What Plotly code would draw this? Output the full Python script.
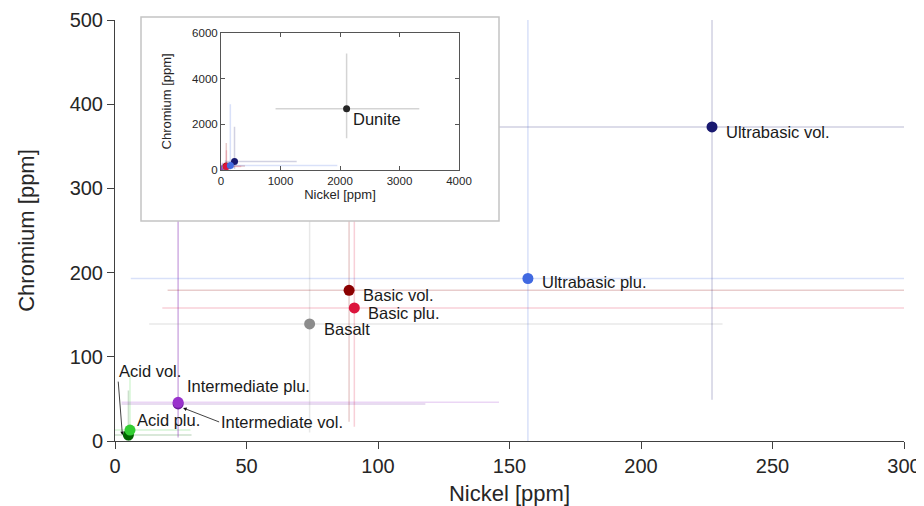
import plotly.graph_objects as go

# ---------------- data ----------------
groups = ["Acid vol.", "Acid plu.", "Intermediate vol.", "Intermediate plu.", "Basalt",
          "Basic vol.", "Basic plu.", "Ultrabasic vol.", "Ultrabasic plu.", "Dunite"]
nickel = [5.1, 5.7, 24, 24, 74, 89, 91, 227, 157, 2111]
chromium = [7, 13, 44, 46, 139, 179, 158, 373, 193, 2680]
nickel_err_minus = [5.1, 5.7, 21.5, 21.5, 61, 69, 73, 150, 151, 1194]
nickel_err_plus = [24, 23, 94, 122, 157, 314, 250, 1045, 1798, 1222]
chromium_err_minus = [7, 13, 40, 41, 129, 156, 141, 324, 200, 1297]
chromium_err_plus = [53, 67, 250, 280, 300, 1000, 700, 1517, 2680, 2415]
colors = ["#006400", "#32CD32", "#6A1B9A", "#9932CC", "#8C8C8C",
          "#8B0000", "#DC143C", "#191970", "#4169E1", "#262626"]

main_xticks = [0, 50, 100, 150, 200, 250, 300]
main_yticks = [0, 100, 200, 300, 400, 500]
inset_xticks = [0, 1000, 2000, 3000, 4000]
inset_yticks = [0, 2000, 4000, 6000]

FONT = "Liberation Sans, Arial, Helvetica, sans-serif"
TXT = "#1a1a1a"
AX = "#404040"


def rgba(hex_color, a):
    h = hex_color.lstrip("#")
    r, g, b = int(h[0:2], 16), int(h[2:4], 16), int(h[4:6], 16)
    return f"rgba({r},{g},{b},{a})"


fig = go.Figure()

# invisible subplot that provides the opaque inset background
fig.add_trace(go.Scatter(x=[], y=[], xaxis="x2", yaxis="y2", showlegend=False, hoverinfo="skip"))


def add_set(xa, ya, msize):
    # error bars first (so markers sit on top of every error line)
    for i, g in enumerate(groups):
        fig.add_trace(go.Scatter(
            x=[nickel[i]], y=[chromium[i]], mode="markers",
            marker=dict(size=1, opacity=0),
            error_x=dict(type="data", symmetric=False, array=[nickel_err_plus[i]],
                         arrayminus=[nickel_err_minus[i]], color=rgba(colors[i], 0.2),
                         thickness=1.5, width=0),
            error_y=dict(type="data", symmetric=False, array=[chromium_err_plus[i]],
                         arrayminus=[chromium_err_minus[i]], color=rgba(colors[i], 0.2),
                         thickness=1.5, width=0),
            xaxis=xa, yaxis=ya, showlegend=False, hoverinfo="skip"))
    for i, g in enumerate(groups):
        fig.add_trace(go.Scatter(
            x=[nickel[i]], y=[chromium[i]], mode="markers", name=g,
            marker=dict(size=msize, color=colors[i], line=dict(width=0)),
            xaxis=xa, yaxis=ya, showlegend=False))


add_set("x", "y", 11)
add_set("x3", "y3", 7)

# ---------------- labels ----------------
lab_font = dict(family=FONT, size=16.5, color=TXT)
right_labels = {"Ultrabasic vol.": (12, -5), "Ultrabasic plu.": (12, -4), "Basic vol.": (12, -5),
                "Basic plu.": (12, -5), "Basalt": (12, -5), "Intermediate plu.": (7, 16),
                "Acid plu.": (5, 10)}
annotations = []
for g, (dx, dy) in right_labels.items():
    i = groups.index(g)
    annotations.append(dict(x=nickel[i], y=chromium[i], xref="x", yref="y", text=g,
                            showarrow=False, xanchor="left", yanchor="middle",
                            xshift=dx, yshift=dy, font=lab_font))

i = groups.index("Acid vol.")
annotations.append(dict(x=nickel[i], y=chromium[i], xref="x", yref="y", text="Acid vol.",
                        showarrow=True, ax=-5, ay=-64, xanchor="left", yanchor="middle",
                        xshift=-6, arrowhead=2, arrowsize=0.9, arrowwidth=0.8,
                        arrowcolor="#111", font=lab_font))
i = groups.index("Intermediate vol.")
annotations.append(dict(x=nickel[i], y=chromium[i], xref="x", yref="y", text="Intermediate vol.",
                        showarrow=True, ax=36, ay=14, xanchor="left", yanchor="middle",
                        xshift=5, yshift=-4, arrowhead=2, arrowsize=0.9, arrowwidth=0.8,
                        arrowcolor="#111", font=lab_font))
i = groups.index("Dunite")
annotations.append(dict(x=nickel[i], y=chromium[i], xref="x3", yref="y3", text="Dunite",
                        showarrow=False, xanchor="left", yanchor="middle",
                        xshift=4, yshift=-10.5, font=lab_font))

# ---------------- layout ----------------
# the page body adds an 8px offset, so the figure is 8px smaller and positions are
# given in window pixels minus that offset
OFF = 8
W, H = 924 - OFF, 506 - OFF
ml, mr, mt, mb = 115 - OFF, 20, 10 - OFF, 65
pw, ph = W - ml - mr, H - mt - mb


def px2paper_x(px):
    return (px - OFF - ml) / pw


def px2paper_y(py):
    return (H - mb - (py - OFF)) / ph


main_ytop = px2paper_y(20)
box = [px2paper_x(141), px2paper_y(221), px2paper_x(499), px2paper_y(17)]
inset = [px2paper_x(221), px2paper_y(170), px2paper_x(459), px2paper_y(32.7)]

fig.update_layout(
    width=W, height=H,
    margin=dict(l=ml, r=mr, t=mt, b=mb),
    paper_bgcolor="white", plot_bgcolor="white",
    font=dict(family=FONT, color=TXT),
    showlegend=False,
    xaxis=dict(range=[0, 300], domain=[0, 1], anchor="y", tickvals=main_xticks,
               ticks="outside", ticklen=7, tickwidth=1, tickcolor=AX,
               showline=True, linecolor=AX, linewidth=1, showgrid=False, zeroline=False,
               tickfont=dict(size=20, color="#262626"),
               title=dict(text="Nickel [ppm]", font=dict(size=22, color="#262626"), standoff=11),
               automargin=False),
    yaxis=dict(range=[0, 500], domain=[0, main_ytop], anchor="x", tickvals=main_yticks,
               ticks="outside", ticklen=7, tickwidth=1, tickcolor=AX,
               showline=True, linecolor=AX, linewidth=1, showgrid=False, zeroline=False,
               tickfont=dict(size=20, color="#262626"),
               title=dict(text="Chromium [ppm]", font=dict(size=22, color="#262626"), standoff=28),
               automargin=False),
    xaxis2=dict(domain=[box[0], box[2]], range=[0, 1], anchor="y2", visible=False, fixedrange=True),
    yaxis2=dict(domain=[box[1], box[3]], range=[0, 1], anchor="x2", visible=False, fixedrange=True),
    xaxis3=dict(domain=[inset[0], inset[2]], range=[0, 4000], anchor="y3", tickvals=inset_xticks,
                ticks="inside", ticklen=4, tickwidth=1, tickcolor="#555", mirror="ticks",
                showline=True, linecolor="#555", linewidth=1, showgrid=False, zeroline=False,
                tickfont=dict(size=11.5, color="#262626"),
                title=dict(text="Nickel [ppm]", font=dict(size=13, color="#262626"), standoff=2),
                automargin=False),
    yaxis3=dict(domain=[inset[1], inset[3]], range=[0, 6000], anchor="x3", tickvals=inset_yticks,
                ticks="inside", ticklen=4, tickwidth=1, tickcolor="#555", mirror="ticks",
                showline=True, linecolor="#555", linewidth=1, showgrid=False, zeroline=False,
                tickfont=dict(size=11.5, color="#262626"),
                title=dict(text="Chromium [ppm]", font=dict(size=13, color="#262626"), standoff=17),
                automargin=False),
    shapes=[
        dict(type="rect", xref="x2", yref="y2", x0=0, x1=1, y0=0, y1=1, layer="below",
             fillcolor="white", line=dict(width=0)),
        dict(type="rect", xref="paper", yref="paper", x0=box[0], x1=box[2], y0=box[1], y1=box[3],
             layer="above", fillcolor="rgba(0,0,0,0)", line=dict(color="#c4c4c4", width=1.5)),
    ],
    annotations=annotations,
)

fig.write_html("out.html")
